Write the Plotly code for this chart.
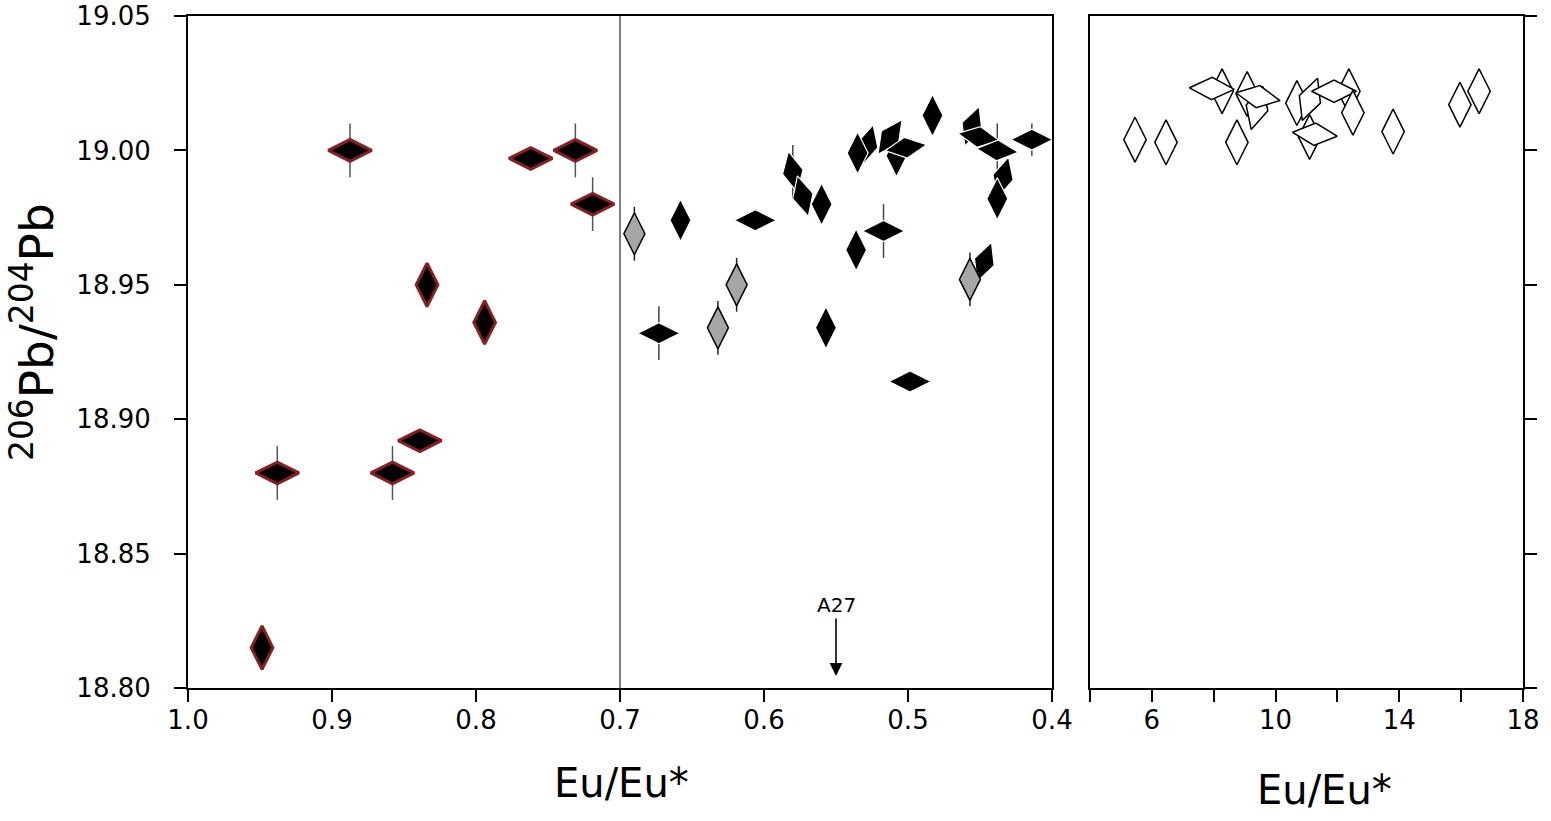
import plotly.graph_objects as go

# ---------------- data ----------------
# Group A: black diamonds with dark-red outline (left panel)
red_x = [0.9486, 0.938, 0.8875, 0.858, 0.839, 0.834, 0.794, 0.762, 0.731, 0.719]
red_y = [18.815, 18.880, 19.000, 18.880, 18.892, 18.950, 18.936, 18.997, 19.000, 18.980]
red_err = [0, 0.01, 0.01, 0.01, 0, 0, 0, 0, 0.01, 0.01]

# Group B: black diamonds (left panel)
blk_x = [0.658, 0.606, 0.673, 0.557, 0.536, 0.517, 0.4986, 0.447,
         0.580, 0.573, 0.560, 0.508, 0.528, 0.535, 0.5125, 0.5015,
         0.483, 0.4556, 0.451, 0.438, 0.414, 0.434, 0.438]
blk_y = [18.974, 18.974, 18.932, 18.934, 18.963, 18.970, 18.914, 18.9585,
         18.992, 18.983, 18.980, 18.998, 19.002, 18.999, 19.005, 19.001,
         19.013, 19.009, 19.005, 19.000, 19.004, 18.990, 18.982]
blk_err = [0, 0, 0.01, 0, 0, 0.01, 0, 0,
           0.01, 0, 0, 0, 0, 0, 0, 0,
           0, 0, 0, 0.01, 0.006, 0, 0]

# Group C: grey diamonds (left panel)
gry_x = [0.690, 0.619, 0.632, 0.457]
gry_y = [18.969, 18.950, 18.934, 18.952]
gry_err = [0.01, 0.01, 0.01, 0.01]

# Group D: open diamonds (right panel)
wht_x = [5.455, 6.457, 8.75, 8.27, 7.94, 9.08, 9.40, 9.43, 10.69, 11.11,
         11.10, 11.27, 12.37, 11.89, 12.50, 13.80, 15.96, 16.58]
wht_y = [19.004, 19.003, 19.003, 19.022, 19.023, 19.021, 19.0158, 19.020, 19.0176, 19.019,
         19.005, 19.006, 19.022, 19.022, 19.014, 19.007, 19.017, 19.022]

x_left_ticks = [1.0, 0.9, 0.8, 0.7, 0.6, 0.5, 0.4]
y_ticks = [18.80, 18.85, 18.90, 18.95, 19.00, 19.05]
x_right_ticks = [4, 6, 8, 10, 12, 14, 16, 18]
x_right_text = ["", "6", "", "10", "", "14", "", "18"]

# ---------------- styles (orientation of each diamond, degrees) ----------------
red_ang = [0, 90, 90, 90, 90, 0, 0, 90, 90, 90]
blk_ang = [0, 90, 90, 0, 0, 90, 90, 20,
           -12, -15, 0, 0, 15, 0, 35, 82,
           0, 20, 100, 95, 90, 15, 0]
gry_ang = [0, 0, 0, 0]
wht_ang = [0, 0, 0, 0, 92, 0, 15, 100, 0, 20,
           0, 95, 0, 90, 0, 0, 0, 0]

FONT = "DejaVu Sans, Liberation Sans, Arial, sans-serif"

fig = go.Figure()

fig.add_trace(go.Scatter(
    x=red_x, y=red_y, mode="markers", xaxis="x", yaxis="y", cliponaxis=False,
    marker=dict(symbol="diamond-tall", size=31, color="black", angle=red_ang,
                line=dict(color="#8B1E1E", width=3)),
    error_y=dict(type="data", array=red_err, color="#555555", thickness=1.5, width=0),
    showlegend=False))

fig.add_trace(go.Scatter(
    x=blk_x, y=blk_y, mode="markers", xaxis="x", yaxis="y", cliponaxis=False,
    marker=dict(symbol="diamond-tall", size=30, color="black", angle=blk_ang,
                line=dict(color="white", width=1.2)),
    error_y=dict(type="data", array=blk_err, color="#444444", thickness=1.5, width=0),
    showlegend=False))

fig.add_trace(go.Scatter(
    x=gry_x, y=gry_y, mode="markers", xaxis="x", yaxis="y", cliponaxis=False,
    marker=dict(symbol="diamond-tall", size=30, color="#a6a6a6", angle=gry_ang,
                line=dict(color="black", width=1.5)),
    error_y=dict(type="data", array=gry_err, color="#222222", thickness=1.5, width=0),
    showlegend=False))

fig.add_trace(go.Scatter(
    x=wht_x, y=wht_y, mode="markers", xaxis="x2", yaxis="y2", cliponaxis=False,
    marker=dict(symbol="diamond-tall", size=32, color="white", angle=wht_ang,
                line=dict(color="black", width=1.5)),
    showlegend=False))

axis_common = dict(showline=True, linewidth=2, linecolor="black", mirror=True,
                   ticks="outside", ticklen=12, tickwidth=2, tickcolor="black",
                   showgrid=False, zeroline=False, automargin=False,
                   tickfont=dict(family=FONT, size=26, color="black"))

y_dom = [1 - 688 / 821, 1 - 16 / 821]

fig.update_layout(
    width=1551, height=821,
    margin=dict(l=0, r=0, t=0, b=0, autoexpand=False),
    paper_bgcolor="white", plot_bgcolor="white",
    xaxis=dict(domain=[188 / 1551, 1052 / 1551], range=[1.0, 0.4],
               tickvals=x_left_ticks, tickformat=".1f", anchor="y",
               ticklabelstandoff=-4, **axis_common),
    yaxis=dict(domain=y_dom, range=[18.80, 19.05], tickvals=y_ticks,
               tickformat=".2f", anchor="x", ticklabelstandoff=18, **axis_common),
    xaxis2=dict(domain=[1090 / 1551, 1523 / 1551], range=[4, 18],
                tickvals=x_right_ticks, ticktext=x_right_text, anchor="y2",
                ticklabelstandoff=-4, **axis_common),
    yaxis2=dict(domain=y_dom, range=[18.80, 19.05], tickvals=y_ticks,
                showticklabels=False, side="right", anchor="x2", **axis_common),
    shapes=[dict(type="line", xref="x", yref="y", x0=0.7, x1=0.7, y0=18.80, y1=19.05,
                 line=dict(color="black", width=1), layer="below")],
    annotations=[
        dict(x=0.55, y=18.8045, xref="x", yref="y", text="A27", showarrow=True,
             ax=0, ay=-71, arrowhead=2, arrowsize=1.6, arrowwidth=1.6, arrowcolor="black",
             font=dict(family=FONT, size=20, color="black")),
        dict(x=621 / 1551, y=1 - 783 / 821, xref="paper", yref="paper", text="Eu/Eu*",
             showarrow=False, xanchor="center", yanchor="middle",
             font=dict(family=FONT, size=40, color="black")),
        dict(x=1324 / 1551, y=1 - 790 / 821, xref="paper", yref="paper", text="Eu/Eu*",
             showarrow=False, xanchor="center", yanchor="middle",
             font=dict(family=FONT, size=40, color="black")),
        dict(x=33 / 1551, y=1 - 332 / 821, xref="paper", yref="paper",
             text="<sup>206</sup>Pb/<sup>204</sup>Pb", textangle=-90,
             showarrow=False, xanchor="center", yanchor="middle",
             font=dict(family=FONT, size=47, color="black")),
    ],
)

fig.write_html("out.html")
